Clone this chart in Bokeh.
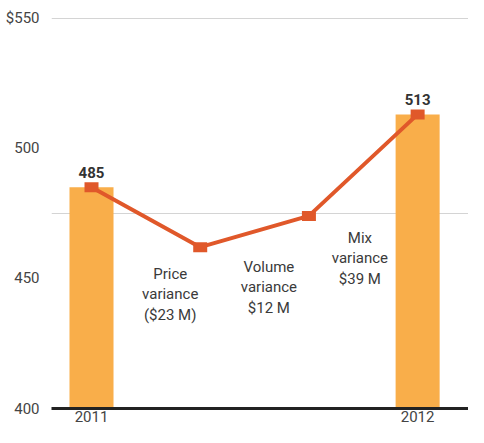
import numpy as np
from bokeh.plotting import figure
from bokeh.models import Range1d, FixedTicker, ColumnDataSource
from bokeh.core.properties import value
from bokeh.embed import file_html
from bokeh.resources import INLINE

# ---- data ----
years = ["2011", "2012"]
totals = [485, 513]
variance_labels = ["Price\nvariance\n($23 M)", "Volume\nvariance\n$12 M", "Mix\nvariance\n$39 M"]
variances = [-23, 12, 39]
y_ticks = [400, 450, 500, 550]
y_tick_labels = ["400", "450", "500", "$550"]
grid_values = [475, 550]

# ---- derived ----
steps = [totals[0]] + [totals[0] + v for v in np.cumsum(variances).tolist()]
xs = list(range(len(steps)))
bar_x = [xs[0], xs[-1]]

FONT = "Roboto"
BAR = "#F9AE4A"
LINE = "#E0582A"
TXT = "#3a3a3a"

p = figure(width=468, height=427, output_backend="svg", toolbar_location=None,
           x_range=Range1d(-0.368, 3.468), y_range=Range1d(400, 551),
           min_border_left=51, min_border_right=0, min_border_top=15, min_border_bottom=19)
p.outline_line_color = None
p.xgrid.visible = False
p.ygrid.ticker = FixedTicker(ticks=grid_values)
p.ygrid.grid_line_color = "#d4d4d4"
p.ygrid.grid_line_width = 1

# y axis
p.yaxis.ticker = FixedTicker(ticks=y_ticks)
p.yaxis.major_label_overrides = {t: l for t, l in zip(y_ticks, y_tick_labels)}
p.yaxis.axis_line_color = None
p.yaxis.major_tick_line_color = None
p.yaxis.minor_tick_line_color = None
p.yaxis.major_label_standoff = 6
p.yaxis.major_label_text_font = FONT
p.yaxis.major_label_text_font_size = "15px"
p.yaxis.major_label_text_color = "#444444"

# x axis
p.xaxis.ticker = FixedTicker(ticks=bar_x)
p.xaxis.major_label_overrides = {x: y for x, y in zip(bar_x, years)}
p.xaxis.axis_line_color = "#222222"
p.xaxis.axis_line_width = 3
p.xaxis.major_tick_line_color = None
p.xaxis.minor_tick_line_color = None
p.xaxis.major_tick_out = 0
p.xaxis.major_label_standoff = 2
p.xaxis.major_label_text_font = FONT
p.xaxis.major_label_text_font_size = "15px"
p.xaxis.major_label_text_color = "#444444"

# bars
bars = ColumnDataSource(dict(x=bar_x, top=totals, label=[str(t) for t in totals]))
p.vbar(x="x", top="top", bottom=400, width=0.405, source=bars, fill_color=BAR, line_color=None)

# line + markers
pts = ColumnDataSource(dict(x=xs, y=steps))
p.line("x", "y", source=pts, line_color=LINE, line_width=4)
p.rect("x", "y", width=14, height=10, width_units="screen", height_units="screen",
       source=pts, fill_color=LINE, line_color=None)

# value labels
p.text("x", "top", text="label", source=bars, text_align="center", text_baseline="alphabetic",
       y_offset=-15, text_font=value(FONT), text_font_size="15px", text_font_style="bold",
       text_color="#333333")

# variance annotations
anchor_idx = [1, 2, 2]
x_offs = [-30, -40, 51]
y_offs = [18, 42, 13]
ann = ColumnDataSource(dict(x=[xs[i] for i in anchor_idx], y=[steps[i] for i in anchor_idx],
                            text=variance_labels, xo=x_offs, yo=y_offs))
p.text("x", "y", text="text", source=ann, x_offset="xo", y_offset="yo",
       text_align="center", text_baseline="top", text_line_height=1.13,
       text_font=value(FONT), text_font_size="15px", text_color=TXT)

open("out.html", "w").write(file_html(p, INLINE))
